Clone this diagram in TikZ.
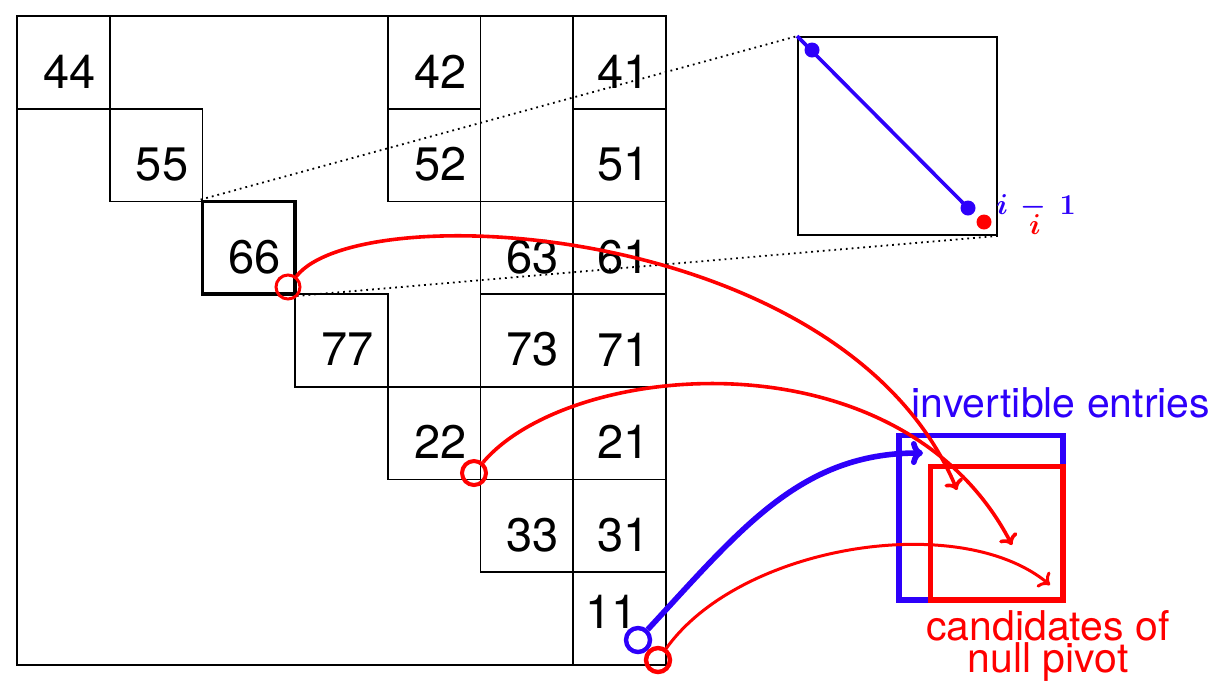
\documentclass[tikz,border=0pt]{standalone}
\usepackage{fontspec}
\setmainfont{TeX Gyre Heros}
\usetikzlibrary{arrows.meta}

\definecolor{invblue}{RGB}{45,0,250}
\definecolor{pivred}{RGB}{255,0,0}

\tikzset{
  cellbox/.style={draw, line width=0.9pt, minimum size=46.35pt, inner sep=0pt},
  num/.style={font=\fontsize{23.5}{28}\selectfont, inner sep=0pt},
  ring/.style={circle, draw, minimum size=12pt, inner sep=0pt},
  dot/.style={circle, fill, minimum size=7.5pt, inner sep=0pt},
  tagbox/.style={draw, line width=2.8pt, inner sep=0pt},
  tagtext/.style={font=\fontsize{20.5}{15}\selectfont, inner sep=0pt, align=center}
}

\begin{document}
\begin{tikzpicture}[
    x=0.5pt,
    y=-0.5pt,
    >={To[length=5pt,width=10pt]}
  ]
  \useasboundingbox (0,0) rectangle (1213,682);

  % --- 1. block matrix ---
  \def\cs{92.7}
  \def\xo{17}
  \def\yo{16}
  \draw[line width=0.9pt] (\xo,\yo) rectangle ({\xo+7*\cs},{\yo+7*\cs});

  % label / column / row / text shift
  \foreach \lab/\c/\r/\dx/\dy in {44/0/0/6/9, 55/1/1/6/9, 77/3/3/6/9, 22/4/4/6/9,
      33/5/5/6/9, 11/6/6/-8/-7, 42/4/0/6/9, 52/4/1/6/9, 41/6/0/4/9, 51/6/1/4/9,
      63/5/2/6/9, 61/6/2/4/9, 73/5/3/6/9, 71/6/3/4/9, 21/6/4/4/9, 31/6/5/4/9}{
    \node[cellbox] (b\lab) at ({\xo+\cs*(\c+0.5)},{\yo+\cs*(\r+0.5)}) {};
    \node[num] (n\lab) at ([shift={(\dx,\dy)}]b\lab) {\lab};
  }

  % the pivot block 66
  \node[cellbox, line width=1.8pt] (b66) at ({\xo+\cs*2.5},{\yo+\cs*2.5}) {};
  \node[num] (n66) at ([shift={(6,9)}]b66) {66};

  % --- 2. zoom on block 66 ---
  \node[draw, line width=0.9pt, minimum width=99.5pt, minimum height=99pt, inner sep=0pt] (zoom) at (897.5,136) {};
  \draw[dotted, line width=0.9pt] (b66.north west) -- (zoom.north west);
  \draw[dotted, line width=0.9pt] (b66.south east) -- (zoom.south east);

  \node[dot, invblue] (d1) at (812,50) {};
  \node[dot, invblue] (d2) at (968,208) {};
  \node[dot, pivred] (d3) at (984,222) {};
  \draw[invblue, line width=1.8pt] (zoom.north west) -- (d2.center);

  \node[invblue, font=\fontsize{14}{16}\selectfont\boldmath] (lim) at (1036,206) {$i\,-\,1$};
  \node[pivred, font=\fontsize{14}{16}\selectfont\boldmath] (li) at (1035,225) {$i$};

  % --- 3. target sets ---
  \node[tagbox, draw=invblue, minimum width=82pt, minimum height=82.25pt] (inv) at (981,517.75) {};
  \node[tagbox, draw=pivred, minimum width=66.25pt, minimum height=66.75pt] (cand) at (996.75,533.25) {};
  \node[tagtext, invblue] (linv) at (1061,403) {invertible entries};
  \node[tagtext, pivred] (lcand) at (1048,646) {candidates of\\null pivot};

  \coordinate (t66) at (957,490);
  \coordinate (t22) at (1012,545);
  \coordinate (t11) at (1050,585);
  \coordinate (tb) at (923,453);

  % --- 4. pivots and where they go ---
  \node[ring, pivred, line width=1.5pt] (c66) at (288,287) {};
  \node[ring, pivred, line width=2pt] (c22) at (474,473) {};
  \node[ring, invblue, line width=2.2pt] (c11b) at (638,640) {};
  \node[ring, pivred, line width=2.2pt] (c11r) at (658,660) {};

  \draw[pivred, line width=1.8pt, ->] (c66) .. controls (360,195) and (845,222) .. (t66);
  \draw[pivred, line width=1.8pt, ->] (c22) .. controls (570,360) and (900,330) .. (t22);
  \draw[pivred, line width=1.5pt, ->] (c11r) .. controls (740,545) and (960,510) .. (t11);
  \draw[invblue, line width=2.8pt, -{To[length=6pt,width=12pt]}] (c11b) .. controls (740,530) and (800,453) .. (tb);

\end{tikzpicture}
\end{document}
